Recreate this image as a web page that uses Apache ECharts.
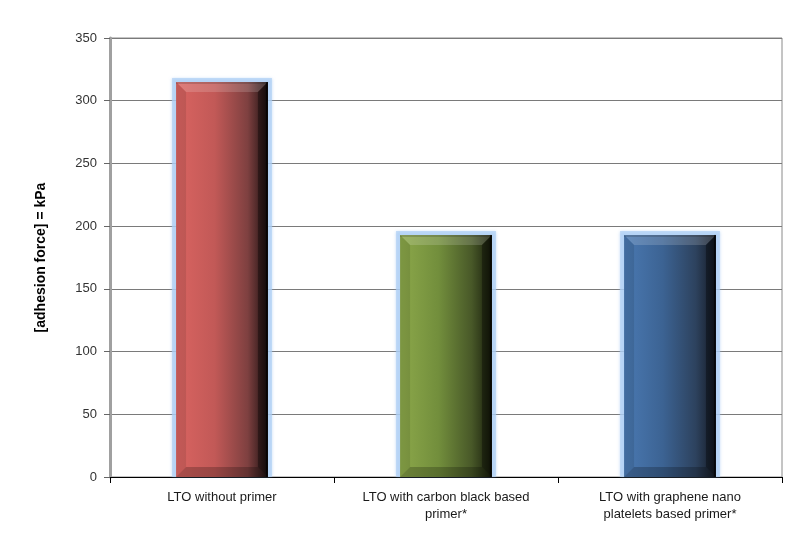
<!DOCTYPE html>
<html>
<head>
<meta charset="utf-8">
<style>
  html, body { margin: 0; padding: 0; background: #ffffff; }
  #chart { width: 787px; height: 533px; }
</style>
<script src="https://cdn.jsdelivr.net/npm/echarts@6/dist/echarts.min.js"></script>
</head>
<body>
<div id="chart"></div>
<script>
// Adhesion force of LTO electrodes with and without primer layers
const categories = [
  'LTO without primer',
  'LTO with carbon black based\nprimer*',
  'LTO with graphene nano\nplatelets based primer*'
];
const adhesionKPa = [315, 193, 193];
const yTicks = { min: 0, max: 350, interval: 50 };

// Fill colours per bar: light left edge fading to near black on the right
const barPalette = [
  ['#da6461', '#c25957', '#7e4040', '#1a1010'],
  ['#8ca84a', '#728e3c', '#485828', '#171c0b'],
  ['#4a79b2', '#3c6393', '#2d425e', '#141a23']
];

const chart = echarts.init(document.getElementById('chart'), null, { renderer: 'canvas' });

function renderBevelBar(params, api) {
  const idx = api.value(0);
  const val = api.value(1);
  const topPt = api.coord([idx, val]);
  const basePt = api.coord([idx, 0]);
  const bw = api.size([1, 0])[0] * 0.41;
  const l = topPt[0] - bw / 2, r = topPt[0] + bw / 2;
  const t = topPt[1], b = basePt[1];
  const bev = 10;
  const c = barPalette[params.dataIndex];
  const grad = new echarts.graphic.LinearGradient(0, 0, 1, 0, [
    { offset: 0, color: c[0] },
    { offset: 0.42, color: c[1] },
    { offset: 0.78, color: c[2] },
    { offset: 1, color: c[3] }
  ]);
  const poly = (pts, fill) => ({ type: 'polygon', shape: { points: pts }, style: { fill: fill } });
  return {
    type: 'group',
    children: [
      {
        type: 'rect',
        shape: { x: l - 4, y: t - 4, width: bw + 8, height: b - t + 4 },
        style: { fill: 'rgba(175,208,245,0.7)', shadowBlur: 3, shadowColor: 'rgba(150,190,240,0.8)' }
      },
      { type: 'rect', shape: { x: l, y: t, width: bw, height: b - t }, style: { fill: grad } },
      poly([[l, t], [r, t], [r - bev, t + bev], [l + bev, t + bev]], 'rgba(255,255,255,0.16)'),
      poly([[l, b], [r, b], [r - bev, b - bev], [l + bev, b - bev]], 'rgba(0,0,0,0.22)'),
      poly([[l, t], [l + bev, t + bev], [l + bev, b - bev], [l, b]], 'rgba(0,0,0,0.10)'),
      poly([[r, t], [r - bev, t + bev], [r - bev, b - bev], [r, b]], 'rgba(0,0,0,0.35)'),
      { type: 'rect', shape: { x: l, y: t, width: bw, height: 2 }, style: { fill: 'rgba(0,0,0,0.15)' } },
      { type: 'rect', shape: { x: r - 2, y: t, width: 2, height: b - t }, style: { fill: 'rgba(0,0,0,0.6)' } }
    ]
  };
}

chart.setOption({
  animation: false,
  backgroundColor: '#ffffff',
  grid: {
    left: 110, right: 5, top: 38, bottom: 56,
    show: true, borderColor: '#8a8a8a', borderWidth: 1
  },
  xAxis: {
    type: 'category',
    data: categories,
    axisLine: { lineStyle: { color: '#000000', width: 1 } },
    axisTick: { show: true, alignWithLabel: false, length: 6, lineStyle: { color: '#000000' } },
    axisLabel: {
      color: '#1a1a1a', fontFamily: 'Liberation Sans, Arial, sans-serif', fontSize: 13,
      lineHeight: 17, margin: 12, interval: 0
    }
  },
  yAxis: {
    type: 'value',
    min: yTicks.min, max: yTicks.max, interval: yTicks.interval,
    name: '[adhesion force] = kPa',
    nameLocation: 'middle',
    nameGap: 62,
    nameTextStyle: { color: '#000000', fontWeight: 'bold', fontSize: 14, fontFamily: 'Liberation Sans, Arial, sans-serif' },
    axisLine: { show: true, lineStyle: { color: '#a0a0a0', width: 3 } },
    axisTick: { show: true, length: 6, lineStyle: { color: '#666666' } },
    axisLabel: { color: '#333333', fontSize: 13, margin: 13, fontFamily: 'Liberation Sans, Arial, sans-serif' },
    splitLine: { show: true, lineStyle: { color: '#7a7a7a', width: 1 } }
  },
  series: [{
    type: 'custom',
    renderItem: renderBevelBar,
    encode: { x: 0, y: 1 },
    data: adhesionKPa.map((v, i) => [i, v]),
    z: 5
  }]
});
</script>
</body>
</html>
